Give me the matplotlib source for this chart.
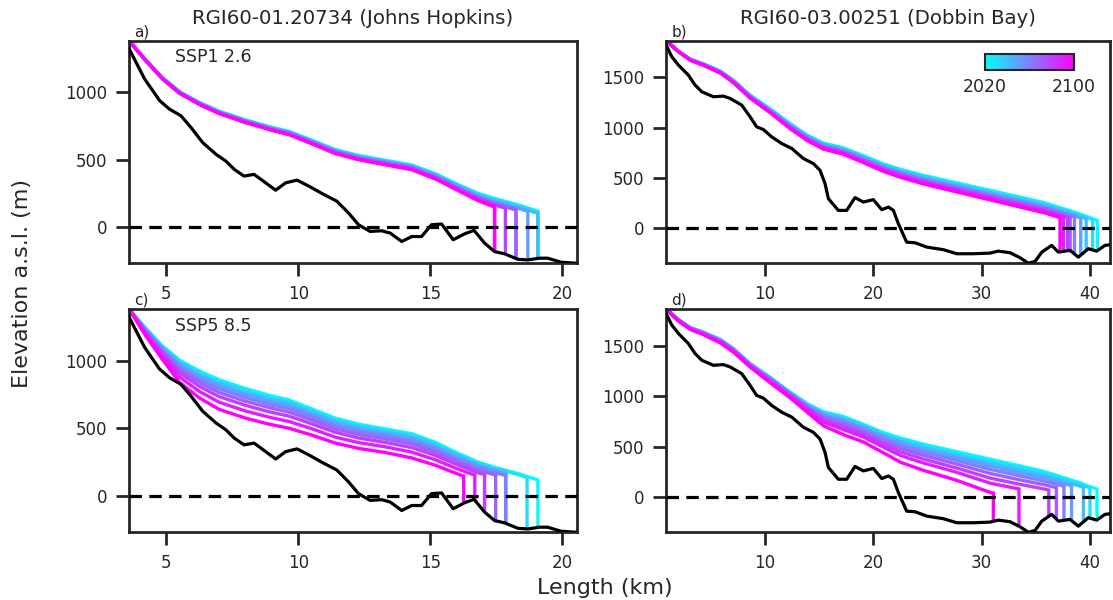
import numpy as np
import matplotlib.pyplot as plt
from matplotlib import colors

years = [2020, 2030, 2040, 2050, 2060, 2070, 2080, 2090, 2100]

# Johns Hopkins: bed profile (km, m a.s.l.)
jh_bed_x = [3.58, 4.17, 4.74, 5.11, 5.55, 5.93, 6.37, 6.88, 7.25, 7.57, 7.94, 8.32, 8.76, 9.14,
            9.52, 9.95, 10.4, 10.9, 11.46, 11.9, 12.28, 12.72, 13.16, 13.48, 13.92, 14.3, 14.67,
            15.05, 15.43, 15.87, 16.31, 16.66, 17.06, 17.44, 17.82, 18.32, 18.7, 19.14, 19.45,
            19.96, 20.55]
jh_bed = [1326, 1101, 939, 876, 826, 739, 627, 539, 489, 427, 377, 390, 327, 272, 327, 347, 302,
          247, 190, 103, 15, -35, -30, -47, -110, -73, -73, 15, 20, -97, -52, -27, -122, -185,
          -202, -242, -247, -234, -234, -264, -272]

# Johns Hopkins: surface nodes (km)
jh_x = [3.58, 4.2, 4.85, 5.5, 6.25, 7.0, 8.0, 8.9, 9.65, 10.5, 11.4, 12.3, 13.3, 14.3, 15.2,
        16.05, 16.8, 17.45, 18.3, 19.1]

# SSP1 2.6 surfaces, one row per decade
jh_ssp126 = [
    [1385, 1245, 1110, 1005, 925, 860, 795, 745, 710, 645, 575, 530, 495, 460, 395, 315, 250, 210, 165, 115],
    [1385, 1244, 1109, 1004, 923, 858, 793, 742, 707, 642, 571, 526, 491, 456, 390, 310, 243, 202, 157, 107],
    [1385, 1244, 1108, 1002, 921, 856, 790, 740, 704, 638, 568, 522, 487, 451, 385, 304, 236, 194, 148, 98],
    [1385, 1243, 1106, 1001, 919, 853, 788, 737, 701, 635, 564, 518, 482, 447, 380, 298, 230, 186, 139, 89],
    [1385, 1242, 1105, 999, 918, 851, 785, 734, 698, 632, 560, 514, 478, 442, 375, 292, 222, 178, 130, 80],
    [1385, 1242, 1104, 998, 916, 849, 783, 731, 694, 628, 556, 510, 474, 438, 370, 287, 216, 170, 122, 72],
    [1385, 1241, 1102, 996, 914, 846, 780, 728, 691, 625, 552, 506, 469, 433, 365, 281, 209, 161, 112, 62],
    [1385, 1241, 1101, 995, 912, 844, 778, 726, 688, 622, 549, 502, 465, 429, 360, 276, 202, 153, 104, 54],
    [1385, 1240, 1100, 993, 910, 842, 775, 723, 685, 618, 545, 498, 461, 424, 355, 270, 195, 145, 95, 45],
]
jh_front_126 = [19.08, 19.08, 19.08, 18.70, 18.25, 18.25, 17.85, 17.44, 17.44]

# SSP5 8.5 surfaces
jh_ssp585 = [
    [1385, 1245, 1110, 1005, 925, 860, 795, 745, 710, 645, 575, 530, 495, 460, 395, 315, 250, 210, 165, 115],
    [1385, 1242, 1104, 995, 913, 847, 782, 732, 697, 633, 564, 519, 485, 449, 385, 306, 242, 202, 158, 109],
    [1385, 1238, 1097, 984, 899, 831, 766, 717, 683, 620, 551, 507, 472, 437, 373, 295, 232, 193, 150, 103],
    [1385, 1233, 1089, 970, 883, 814, 749, 700, 666, 604, 536, 492, 458, 422, 359, 282, 221, 183, 141, 95],
    [1385, 1228, 1079, 954, 863, 792, 727, 678, 645, 585, 518, 474, 441, 404, 342, 267, 207, 170, 129, 86],
    [1385, 1221, 1067, 934, 839, 765, 700, 653, 620, 561, 495, 453, 420, 383, 322, 248, 190, 154, 116, 74],
    [1385, 1214, 1053, 911, 811, 735, 670, 622, 590, 534, 470, 427, 395, 357, 298, 227, 170, 136, 99, 61],
    [1385, 1203, 1034, 880, 773, 693, 628, 582, 550, 497, 434, 393, 362, 323, 266, 197, 144, 111, 78, 43],
    [1385, 1190, 1010, 840, 725, 640, 575, 530, 500, 450, 390, 350, 320, 280, 225, 160, 110, 80, 50, 20],
]
jh_front_585 = [19.08, 18.67, 17.86, 17.86, 17.86, 17.48, 17.06, 16.69, 16.27]

# Dobbin Bay: bed profile
db_bed_x = [0.86, 1.39, 2.0, 2.92, 3.54, 4.16, 5.23, 6.15, 6.77, 7.85, 8.62, 9.23, 9.84, 10.62,
            11.54, 12.47, 13.54, 14.46, 15.08, 15.54, 15.85, 16.77, 17.54, 18.31, 19.08, 20.0,
            20.78, 21.39, 21.85, 22.31, 23.08, 23.85, 24.93, 26.47, 27.7, 29.23, 30.77, 31.54,
            32.62, 33.55, 34.31, 34.93, 35.55, 36.47, 37.08, 38.16, 38.93, 39.85, 40.62, 41.39,
            41.85]
db_bed = [1821, 1705, 1622, 1522, 1423, 1356, 1306, 1313, 1290, 1223, 1107, 1007, 981, 907, 841,
          792, 692, 642, 575, 443, 293, 176, 176, 303, 259, 283, 183, 209, 176, 44, -140, -146,
          -189, -215, -255, -255, -249, -229, -245, -295, -350, -332, -239, -172, -239, -222,
          -289, -205, -229, -172, -166]

db_x = [0.86, 2.0, 3.1, 4.3, 5.9, 7.1, 8.6, 10.5, 12.3, 13.9, 15.4, 17.2, 19.1, 20.9, 22.5, 24.6,
        27.7, 30.8, 33.9, 35.7, 37.5, 39.1, 40.7]

db_ssp126 = [
    [1864, 1760, 1680, 1635, 1560, 1470, 1325, 1185, 1040, 925, 845, 800, 720, 640, 585, 525, 450, 375, 300, 255, 195, 140, 75],
    [1864, 1759, 1679, 1633, 1558, 1467, 1321, 1180, 1034, 918, 838, 792, 712, 631, 575, 515, 439, 364, 288, 243, 183, 128, 63],
    [1864, 1759, 1678, 1631, 1555, 1464, 1318, 1175, 1028, 911, 830, 784, 703, 621, 565, 504, 428, 351, 275, 230, 170, 115, 50],
    [1864, 1758, 1676, 1629, 1553, 1461, 1314, 1170, 1022, 905, 823, 776, 694, 612, 555, 494, 417, 340, 263, 218, 158, 103, 38],
    [1864, 1758, 1675, 1628, 1550, 1458, 1310, 1165, 1015, 898, 815, 768, 685, 603, 545, 483, 405, 328, 250, 205, 145, 90, 25],
    [1864, 1757, 1674, 1626, 1548, 1455, 1306, 1160, 1009, 891, 808, 760, 677, 594, 535, 472, 394, 316, 238, 193, 133, 78, 13],
    [1864, 1756, 1673, 1624, 1545, 1451, 1303, 1155, 1003, 884, 800, 751, 668, 584, 525, 461, 383, 304, 225, 180, 120, 65, 0],
    [1864, 1756, 1671, 1622, 1543, 1448, 1299, 1150, 997, 877, 793, 743, 659, 575, 515, 451, 372, 292, 213, 168, 108, 53, -12],
    [1864, 1755, 1670, 1620, 1540, 1445, 1295, 1145, 990, 870, 785, 735, 650, 565, 505, 440, 360, 280, 200, 155, 95, 40, -25],
]
db_front_126 = [40.69, 40.25, 39.65, 39.15, 38.57, 38.17, 37.92, 37.55, 37.24]

db_ssp585 = [
    [1864, 1760, 1680, 1635, 1560, 1470, 1325, 1185, 1040, 925, 845, 800, 720, 640, 585, 525, 450, 375, 300, 255, 195, 140, 75],
    [1864, 1759, 1679, 1633, 1558, 1468, 1323, 1182, 1037, 920, 837, 789, 709, 628, 571, 509, 433, 355, 281, 237, 178, 125, 62],
    [1864, 1758, 1677, 1632, 1555, 1465, 1320, 1178, 1033, 914, 827, 777, 697, 614, 554, 491, 413, 332, 258, 215, 159, 107, 47],
    [1864, 1757, 1676, 1630, 1553, 1463, 1318, 1173, 1028, 907, 816, 762, 683, 598, 535, 470, 390, 306, 233, 191, 137, 87, 30],
    [1864, 1755, 1674, 1627, 1549, 1459, 1314, 1168, 1023, 899, 802, 744, 666, 578, 511, 444, 362, 273, 201, 160, 110, 62, 8],
    [1864, 1754, 1671, 1624, 1545, 1455, 1310, 1161, 1016, 888, 785, 723, 645, 554, 482, 413, 327, 233, 162, 124, 77, 32, -17],
    [1864, 1751, 1669, 1621, 1540, 1450, 1305, 1154, 1009, 877, 765, 697, 620, 526, 448, 377, 288, 187, 118, 81, 38, -3, -48],
    [1864, 1749, 1666, 1617, 1535, 1445, 1300, 1145, 1000, 864, 744, 670, 594, 496, 412, 338, 245, 137, 70, 35, -3, -40, -80],
    [1864, 1745, 1660, 1610, 1525, 1435, 1290, 1130, 985, 840, 705, 620, 545, 440, 345, 265, 165, 45, -20, -50, -80, -110, -140],
]
db_front_585 = [40.65, 40.0, 39.4, 38.3, 37.6, 36.9, 36.2, 33.45, 31.08]

titles = ['RGI60-01.20734 (Johns Hopkins)', 'RGI60-03.00251 (Dobbin Bay)']
panel_tags = ['a)', 'b)', 'c)', 'd)']
scenarios = ['SSP1 2.6', 'SSP5 8.5']

plt.rcParams['font.family'] = ['DejaVu Sans']
plt.rcParams['text.color'] = '#262626'
plt.rcParams['axes.edgecolor'] = '#262626'
plt.rcParams['xtick.color'] = '#262626'
plt.rcParams['ytick.color'] = '#262626'

cmap = plt.get_cmap('cool')
norm = colors.Normalize(vmin=years[0], vmax=years[-1])


def draw_panel(ax, x_nodes, rows, fronts, bed_x, bed_z, yticks, xticks):
    x_nodes = np.asarray(x_nodes, dtype=float)
    for yr, row, xt in zip(years, rows, fronts):
        row = np.asarray(row, dtype=float)
        keep = x_nodes < xt
        z_top = np.interp(xt, x_nodes, row)
        z_bot = np.interp(xt, bed_x, bed_z)
        xs = np.append(x_nodes[keep], [xt, xt])
        zs = np.append(row[keep], [z_top, z_bot])
        ax.plot(xs, zs, color=cmap(norm(yr)), lw=2.4,
                solid_joinstyle='miter', solid_capstyle='butt', zorder=2)
    ax.plot(bed_x, bed_z, color='black', lw=2.3, zorder=3)
    ax.axhline(0, color='black', lw=2.3, ls=(0, (3.9, 2.3)), zorder=4)
    ax.set_xlim(bed_x[0], bed_x[-1])
    top = max(max(r) for r in rows)
    ax.set_ylim(min(bed_z), top)
    ax.set_yticks(yticks)
    ax.set_xticks(xticks)
    for s in ax.spines.values():
        s.set_linewidth(2.0)
    ax.tick_params(direction='out', length=9.5, width=2.0, pad=6, labelsize=12)


fig = plt.figure(figsize=(11.13, 6), dpi=100)
ax_a = fig.add_axes([0.1159, 0.5612, 0.4022, 0.3710])
ax_b = fig.add_axes([0.5984, 0.5612, 0.3989, 0.3710])
ax_c = fig.add_axes([0.1159, 0.1128, 0.4022, 0.3722])
ax_d = fig.add_axes([0.5984, 0.1128, 0.3989, 0.3722])

draw_panel(ax_a, jh_x, jh_ssp126, jh_front_126, jh_bed_x, jh_bed, [0, 500, 1000], [5, 10, 15, 20])
draw_panel(ax_b, db_x, db_ssp126, db_front_126, db_bed_x, db_bed, [0, 500, 1000, 1500], [10, 20, 30, 40])
draw_panel(ax_c, jh_x, jh_ssp585, jh_front_585, jh_bed_x, jh_bed, [0, 500, 1000], [5, 10, 15, 20])
draw_panel(ax_d, db_x, db_ssp585, db_front_585, db_bed_x, db_bed, [0, 500, 1000, 1500], [10, 20, 30, 40])

ax_a.set_title(titles[0], fontsize=14.2, pad=12)
ax_b.set_title(titles[1], fontsize=14.2, pad=12)

for ax, tag in zip([ax_a, ax_b, ax_c, ax_d], panel_tags):
    ax.text(0.012, 1.005, tag, transform=ax.transAxes, ha='left', va='bottom', fontsize=11)

ax_a.text(0.103, 0.925, scenarios[0], transform=ax_a.transAxes, ha='left', va='center', fontsize=12.5)
ax_c.text(0.103, 0.925, scenarios[1], transform=ax_c.transAxes, ha='left', va='center', fontsize=12.5)

# colour bar for the years, inset in panel b
cax = ax_b.inset_axes([0.718, 0.868, 0.2, 0.072])
sm = plt.cm.ScalarMappable(cmap=cmap, norm=norm)
cb = fig.colorbar(sm, cax=cax, orientation='horizontal', ticks=[years[0], years[-1]])
cb.outline.set_linewidth(1.5)
cb.ax.tick_params(length=0, pad=6, labelsize=12.5)

fig.text(0.02, 0.528, 'Elevation a.s.l. (m)', rotation=90, ha='center', va='center', fontsize=16)
fig.text(0.543, 0.02, 'Length (km)', ha='center', va='center', fontsize=16)

fig.savefig('out.png', dpi=100)
